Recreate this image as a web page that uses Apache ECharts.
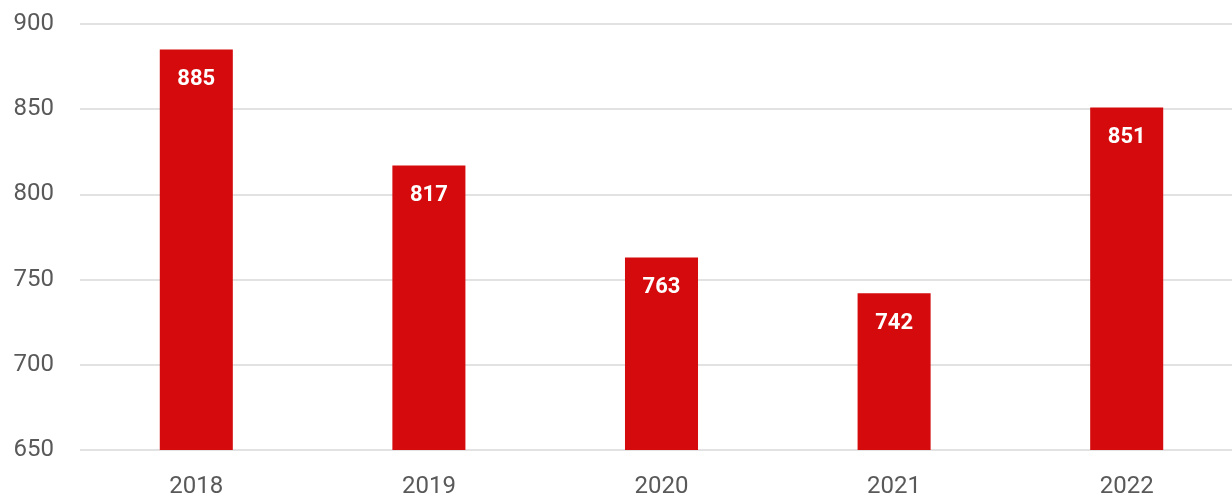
<!DOCTYPE html>
<html>
<head>
<meta charset="utf-8">
<script src="https://cdn.jsdelivr.net/npm/echarts@6/dist/echarts.min.js"></script>
<style>
  html, body { margin: 0; padding: 0; background: #ffffff; }
  #chart { width: 1232px; height: 496px; }
</style>
</head>
<body>
<div id="chart"></div>
<script>
// Yearly values shown as red columns
const years = ['2018', '2019', '2020', '2021', '2022'];
const values = [885, 817, 763, 742, 851];

// Value axis range
const yMin = 650;
const yMax = 900;
const yStep = 50;

const chart = echarts.init(document.getElementById('chart'));
chart.setOption({
  animation: false,
  // plot area runs a little past the right edge of the canvas
  grid: { left: 80, width: 1163, top: 24, bottom: 46, containLabel: false, outerBoundsMode: 'none' },
  xAxis: {
    type: 'category',
    data: years,
    axisLine: { show: false },
    axisTick: { show: false },
    axisLabel: {
      color: '#595959',
      fontFamily: 'Roboto',
      fontSize: 24,
      margin: 25
    }
  },
  yAxis: {
    type: 'value',
    min: yMin,
    max: yMax,
    interval: yStep,
    axisLine: { show: false },
    axisTick: { show: false },
    splitLine: { lineStyle: { color: '#d9d9d9', width: 1.5 } },
    axisLabel: {
      color: '#595959',
      fontFamily: 'Roboto',
      fontSize: 24,
      margin: 26
    }
  },
  series: [{
    type: 'bar',
    data: values,
    barWidth: '31.4%',
    itemStyle: { color: '#d40a0c' },
    label: {
      show: true,
      position: 'insideTop',
      distance: 19,
      color: '#ffffff',
      fontFamily: 'Roboto',
      fontWeight: 'bold',
      fontSize: 22
    }
  }]
});
</script>
</body>
</html>
